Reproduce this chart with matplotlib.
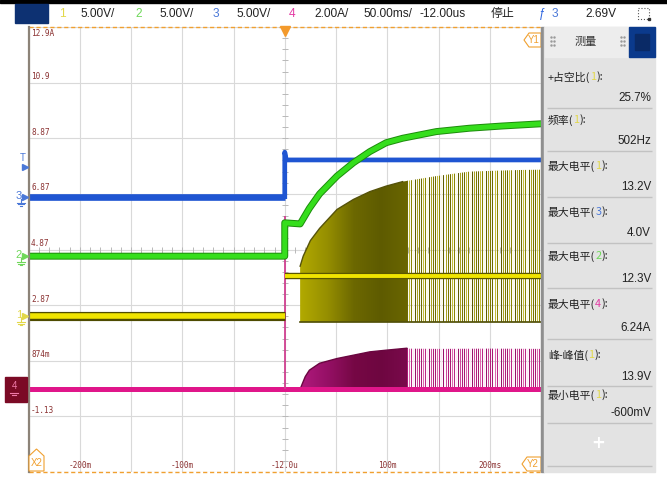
import numpy as np
import matplotlib
matplotlib.use("Agg")
import matplotlib.pyplot as plt
from matplotlib import font_manager
from matplotlib.colors import LinearSegmentedColormap
from matplotlib.patches import Rectangle, Polygon

W, H = 667, 484

# screen: 10 x 8 divisions, 50 ms/div, trigger delay -12 us
t_min, t_max = -250, 250
n_div_y = 8
time_per_div = 50.0

# channel scale (units/div) and ground marker (divisions from bottom)
ch_scale = {1: 5.0, 2: 5.0, 3: 5.0, 4: 2.0}
ch_ground = {1: 2.80, 2: 3.88, 3: 4.95, 4: 1.49}
trig_level = 2.69  # V, on ch3

# ch1 (yellow), V
ch1_pre = 0.0
ch1_post = 3.6
ch1_low = -0.5
ch1_env_t = [15, 18, 25, 34, 51, 67, 83, 99, 115, 148, 180, 212, 250]
ch1_env_v = [4.5, 5.4, 6.8, 7.9, 9.6, 10.5, 11.2, 11.7, 12.1, 12.6, 13.0, 13.1, 13.2]

# ch2 (green), V
ch2_t = [-250, 0, 0, 15, 24, 34, 51, 67, 83, 99, 115, 148, 180, 212, 250]
ch2_v = [0.0, 0.0, 3.0, 2.9, 4.3, 5.6, 7.2, 8.4, 9.4, 10.2, 10.6, 11.2, 11.5, 11.7, 11.9]

# ch3 (blue), V
ch3_t = [-250, 0, 0, 1.5, 250]
ch3_v = [0.0, 0.0, 4.0, 3.3, 3.3]

# ch4 (magenta), A
ch4_base = 0.0
ch4_spike = 6.24
ch4_env_t = [15, 20, 24, 34, 51, 67, 83, 99, 119, 150, 200, 250]
ch4_env_v = [0.0, 0.45, 0.68, 0.93, 1.10, 1.22, 1.34, 1.40, 1.47, 1.45, 1.47, 1.45]

dense_end = 119  # ms, display turns into separate pulses after this
pwm_freq = 502  # Hz

y_tick_labels = ["12.9A", "10.9", "8.87", "6.87", "4.87", "2.87", "874m", "-1.13"]
x_tick_vals = [-200, -100, 0, 100, 200]
x_tick_labels = ["-200m", "-100m", "-12.0u", "100m", "200ms"]

meas_names = ["+占空比", "频率", "最大电平", "最大电平", "最大电平", "最大电平", "峰-峰值", "最小电平"]
meas_ch = [1, 1, 1, 3, 2, 4, 1, 1]
meas_values = ["25.7%", "502Hz", "13.2V", "4.0V", "12.3V", "6.24A", "13.9V", "-600mV"]

ch_color = {1: "#f0e400", 2: "#35de1c", 3: "#1f55d2", 4: "#e0168a"}
ch_text_color = {1: "#e2d84a", 2: "#6fd85a", 3: "#4a78d8", 4: "#e43aa4"}

names = {f.name for f in font_manager.fontManager.ttflist}
narrow = "Liberation Sans Narrow" if "Liberation Sans Narrow" in names else "Liberation Sans"
cjk = ["Noto Sans CJK SC", "DejaVu Sans"]
mono = "DejaVu Sans Mono"


def to_div(ch, v):
    return ch_ground[ch] + np.asarray(v, dtype=float) / ch_scale[ch]


fig = plt.figure(figsize=(W / 100, H / 100), dpi=100)
fig.patch.set_facecolor("white")

L, R, T, B = 28.5, 541, 27, 472
ax = fig.add_axes([L / W, 1 - B / H, (R - L) / W, (B - T) / H])
ax.axis("off")

# grid
for x in np.arange(t_min, t_max + 1, time_per_div):
    ax.axvline(x, color="#d9d9d9", lw=0.8, zorder=0.5)
for y in range(n_div_y + 1):
    ax.axhline(y, color="#d9d9d9", lw=0.8, zorder=0.5)
px_t = (t_max - t_min) / (R - L)
px_d = n_div_y / (B - T)
ax.hlines(np.arange(0, n_div_y + 0.01, 0.2), -3 * px_t, 3 * px_t, color="#b8b8b8", lw=0.7, zorder=0.6)
ax.vlines(np.arange(t_min, t_max + 1, 10), 4 - 3 * px_d, 4 + 3 * px_d, color="#b8b8b8", lw=0.7, zorder=0.6)

# borders
ax.plot([t_min, t_max], [n_div_y, n_div_y], color="#f0a030", lw=1, ls=(0, (3, 2)), clip_on=False, zorder=6)
ax.plot([t_min, t_max], [0, 0], color="#f0a030", lw=1, ls=(0, (3, 2)), clip_on=False, zorder=6)
ax.plot([t_min, t_min], [0, n_div_y], color="#8c8378", lw=1.6, clip_on=False, zorder=6)
ax.plot(0, n_div_y - 4 * px_d, marker="v", ms=7, color="#f39a2c", clip_on=False, zorder=7)

pulse_t = np.arange(dense_end, t_max, 1000 / pwm_freq)


def pulse_block(ch, env_t, env_v, low, cmap, stripe_cols, edge):
    y_low = to_div(ch, low)
    y_top = to_div(ch, env_v)
    t_arr = np.asarray(env_t)
    poly = ax.fill_between(env_t, y_low, y_top, color="none", lw=0)
    path = poly.get_paths()[0]
    grad = ax.imshow(np.linspace(0, 1, 256)[None, :], extent=[env_t[0], dense_end + 0.5, y_low, y_top.max()],
                     cmap=cmap, aspect="auto", zorder=2, interpolation="bilinear")
    grad.set_clip_path(path, ax.transData)
    cols = [stripe_cols[i % len(stripe_cols)] for i in range(len(pulse_t))]
    lc = ax.vlines(pulse_t, y_low, y_top.max(), colors=cols, lw=0.75, zorder=2, snap=True)
    lc.set_clip_path(path, ax.transData)
    m = t_arr <= dense_end
    ax.plot(t_arr[m], y_top[m], color=edge, lw=1.0, zorder=2.1)


yel_cmap = LinearSegmentedColormap.from_list("yel", ["#b2aa00", "#968f00", "#6c6800", "#5e5b00", "#6a6600"])
mag_cmap = LinearSegmentedColormap.from_list("mag", ["#b01a7e", "#961066", "#760845", "#6e0640", "#7a0a4c"])
pulse_block(1, ch1_env_t, ch1_env_v, ch1_low, yel_cmap,
            ["#6e6a00", "#c4bc38", "#8a8400", "#fbf8e0", "#5f5c00", "#aaa220", "#7c7700"], "#55520a")
pulse_block(4, ch4_env_t, ch4_env_v, ch4_base, mag_cmap,
            ["#a81872", "#dc68ae", "#bc2686", "#fbe6f2", "#98126a", "#cc4c9c", "#b01e7c"], "#6a0640")
ax.plot([ch1_env_t[0], t_max], [to_div(1, ch1_low)] * 2, color="#4c4a00", lw=1.2, zorder=2.2)

# ch4 trace
ax.plot([t_min, t_max], [to_div(4, ch4_base)] * 2, color=ch_color[4], lw=3.6, zorder=3, solid_capstyle="butt")
ax.vlines(0, to_div(4, ch4_base), to_div(4, ch4_spike), color="#d04090", lw=1.3, zorder=3)

# ch1 trace
y1_pre, y1_post = to_div(1, ch1_pre), to_div(1, ch1_post)
ax.plot([t_min, 0], [y1_pre] * 2, color="#4e4b00", lw=6.6, zorder=3.2, solid_capstyle="butt")
ax.plot([t_min, 0], [y1_pre] * 2, color=ch_color[1], lw=4.0, zorder=3.3, solid_capstyle="butt")
ax.plot([0, t_max], [y1_post] * 2, color="#5a5600", lw=4.6, zorder=3.2, solid_capstyle="butt")
ax.plot([0, t_max], [y1_post] * 2, color=ch_color[1], lw=2.8, zorder=3.3, solid_capstyle="butt")

# ch3 trace
ax.plot(ch3_t[:2], to_div(3, ch3_v[:2]), color=ch_color[3], lw=4.8, zorder=3.5, solid_capstyle="butt")
ax.plot(ch3_t[1:], to_div(3, ch3_v[1:]), color=ch_color[3], lw=3.4, zorder=3.5)

# ch2 trace
ax.plot(ch2_t, to_div(2, ch2_v), color="#1d8c0c", lw=5.0, zorder=3.8)
ax.plot(ch2_t, to_div(2, ch2_v), color=ch_color[2], lw=3.6, zorder=3.9)

ax.set_xlim(t_min, t_max)
ax.set_ylim(0, n_div_y)

# graticule labels
lab_kw = dict(family=mono, fontsize=5.6, color="#8b3232", zorder=8)
for i, lab in enumerate(y_tick_labels):
    d = n_div_y - i
    if i == 0:
        ax.text(t_min + 2.5 * px_t, d - 1.5 * px_d, lab, ha="left", va="top", **lab_kw)
    else:
        ax.text(t_min + 2.5 * px_t, d + 1.5 * px_d, lab, ha="left", va="bottom", **lab_kw)
for v, lab in zip(x_tick_vals, x_tick_labels):
    ax.text(v, 2 * px_d, lab, ha="center", va="bottom", **lab_kw)

# overlay in pixel coordinates
ov = fig.add_axes([0, 0, 1, 1], zorder=5)
ov.set_xlim(0, W)
ov.set_ylim(H, 0)
ov.axis("off")
ov.patch.set_alpha(0)


def ypx(div):
    return B - div * (B - T) / n_div_y


# top bar
ov.add_patch(Rectangle((0, 0), W, 2.5, color="black"))
ov.add_patch(Rectangle((15, 4), 33, 19, color="#0d3172"))
top_items = [
    (62, "1", ch_text_color[1]), (98, f"{ch_scale[1]:.2f}V/", "#222222"),
    (139, "2", ch_text_color[2]), (177, f"{ch_scale[2]:.2f}V/", "#222222"),
    (216, "3", ch_text_color[3]), (254, f"{ch_scale[3]:.2f}V/", "#222222"),
    (292, "4", ch_text_color[4]), (332, f"{ch_scale[4]:.2f}A/", "#222222"),
    (388, f"{time_per_div:.2f}ms/", "#222222"), (443, "-12.00us", "#222222"),
    (503, "停止", "#222222"), (542, "ƒ", "#2f66e0"), (555, "3", ch_text_color[3]),
    (601, f"{trig_level:.2f}V", "#222222"),
]
for x, s, c in top_items:
    ov.text(x, 14, s, ha="center", va="center", fontsize=8.6, color=c, family=[narrow] + cjk)
ov.add_patch(Rectangle((638, 8), 11, 11, fill=False, ec="#555555", lw=0.8, ls=":"))
ov.plot(649, 19, marker="s", ms=2, color="#333333")

# cursor tags
orange = "#f0a030"
for pts, lab, cx, cy in [
    ([(524, 40), (529, 33), (541, 33), (541, 47), (529, 47)], "Y1", 534, 40),
    ([(522, 464), (527, 457), (541, 457), (541, 471), (527, 471)], "Y2", 533, 464),
    ([(29, 456), (36.5, 449), (44, 456), (44, 471), (29, 471)], "X2", 36.5, 463),
]:
    ov.add_patch(Polygon(pts, closed=True, fill=True, fc="white", ec=orange, lw=0.8))
    ov.text(cx, cy, lab, ha="center", va="center", fontsize=7, color=orange, family=narrow)

# channel markers
for ch in (3, 2, 1):
    y = ypx(ch_ground[ch])
    ov.text(19, y - 1, str(ch), ha="center", va="center", fontsize=8, color=ch_text_color[ch], family=narrow)
    ov.plot(25, y, marker=">", ms=4, color=ch_text_color[ch])
    for k, w in enumerate((4, 2.6, 1.2)):
        ov.plot([21 - w, 21 + w], [y + 6 + 1.6 * k] * 2, color=ch_text_color[ch], lw=0.8)
    ov.plot([21, 21], [y + 2, y + 6], color=ch_text_color[ch], lw=0.8)
y_tr = ypx(ch_ground[3] + trig_level / ch_scale[3])
ov.text(23, y_tr - 9, "T", ha="center", va="center", fontsize=7, color=ch_text_color[3], family=narrow)
ov.plot(25, y_tr, marker=">", ms=4, color=ch_text_color[3])
y4 = ypx(ch_ground[4])
ov.add_patch(Rectangle((5, y4 - 12), 22, 25, color="#7b0a25"))
ov.text(14, y4 - 3, "4", ha="center", va="center", fontsize=7, color="#f07aa8", family=narrow)
ov.plot([10, 18], [y4 + 4] * 2, color="#f07aa8", lw=0.8)
ov.plot([12, 16], [y4 + 6] * 2, color="#f07aa8", lw=0.8)

# measurement panel
ov.add_patch(Rectangle((541, 27), 2.5, 445, color="#8f8f8f"))
ov.add_patch(Rectangle((543.5, 27), 111.5, 445, color="#e3e3e3"))
ov.add_patch(Rectangle((545, 27), 83, 30, color="#ededed"))
ov.text(586, 42, "测量", ha="center", va="center", fontsize=8, color="#333333", family=cjk)
for gx in (551, 621):
    for gy in (37, 41, 45):
        ov.plot([gx, gx + 3], [gy, gy], ls="none", marker=".", ms=1.5, color="#9a9a9a")
ov.add_patch(Rectangle((629, 27), 26, 30, color="#0b3a8c"))
ov.add_patch(Rectangle((635, 34), 14, 16, color="#0a2a66"))

label_y = [77, 120, 166, 212, 256, 304, 355, 395]
value_y = [98, 141, 187, 233, 279, 328, 377, 413]
sep_y = [108, 151, 197, 243, 288, 339, 386, 423, 466]
ov.hlines(sep_y, 547, 652, color="#c2c2c2", lw=1)

fig.canvas.draw()
rend = fig.canvas.get_renderer()
for name, ch, val, ly, vy in zip(meas_names, meas_ch, meas_values, label_y, value_y):
    x = 548
    for s, c in ((name + "(", "#222222"), (str(ch), ch_text_color[ch]), ("):", "#222222")):
        t = ov.text(x, ly, s, ha="left", va="center", fontsize=7.8, color=c, family=cjk)
        x += t.get_window_extent(renderer=rend).width
    ov.text(651, vy, val, ha="right", va="center", fontsize=8.4, color="#222222", family=narrow)
ov.text(598, 443, "+", ha="center", va="center", fontsize=12, color="white", fontweight="bold")

fig.savefig("out.png", dpi=100, facecolor="white")
